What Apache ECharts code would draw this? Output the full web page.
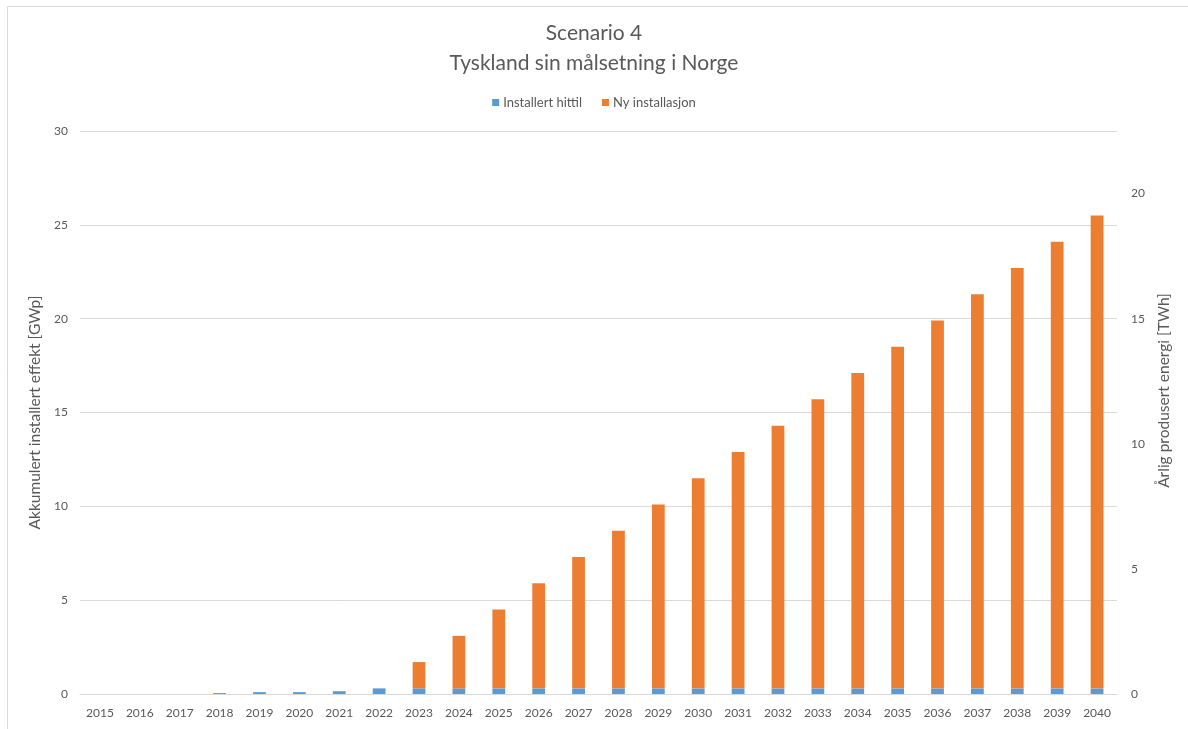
<!DOCTYPE html>
<html>
<head>
<meta charset="utf-8">
<script src="https://cdn.jsdelivr.net/npm/echarts@6/dist/echarts.min.js"></script>
<style>
  html, body { margin: 0; padding: 0; background: #ffffff; }
  #chart { width: 1188px; height: 729px; }
</style>
</head>
<body>
<div id="chart"></div>
<script>
// Years on the category axis
const years = ['2015','2016','2017','2018','2019','2020','2021','2022','2023','2024','2025','2026','2027',
               '2028','2029','2030','2031','2032','2033','2034','2035','2036','2037','2038','2039','2040'];

// Capacity already installed [GWp]
const installertHittil = [0, 0, 0, 0.05, 0.1, 0.1, 0.15, 0.3, 0.3, 0.3, 0.3, 0.3, 0.3,
                          0.3, 0.3, 0.3, 0.3, 0.3, 0.3, 0.3, 0.3, 0.3, 0.3, 0.3, 0.3, 0.3];

// New installations on top [GWp]
const nyInstallasjon = [0, 0, 0, 0, 0, 0, 0, 0, 1.4, 2.8, 4.2, 5.6, 7.0,
                        8.4, 9.8, 11.2, 12.6, 14.0, 15.4, 16.8, 18.2, 19.6, 21.0, 22.4, 23.8, 25.2];

const seriesNames = ['Installert hittil', 'Ny installasjon'];
const titleLines = ['Scenario 4', 'Tyskland sin målsetning i Norge'];
const leftAxisName = 'Akkumulert installert effekt [GWp]';
const rightAxisName = 'Årlig produsert energi [TWh]';

const FONT = 'Lato, "Open Sans", sans-serif';
const TEXT = '#595959';
const GRID = '#d9d9d9';

const chart = echarts.init(document.getElementById('chart'), null, { renderer: 'canvas' });

chart.setOption({
  backgroundColor: '#ffffff',
  animation: false,
  textStyle: { fontFamily: FONT, color: TEXT },
  graphic: [{
    type: 'rect',
    shape: { x: 7.5, y: 6.5, width: 1200, height: 740 },
    style: { fill: null, stroke: GRID, lineWidth: 1 },
    silent: true
  }],
  title: {
    text: titleLines.join('\n'),
    left: 'center',
    top: 18,
    padding: 0,
    textStyle: { fontFamily: FONT, fontSize: 21, fontWeight: 'normal', color: TEXT, lineHeight: 30 }
  },
  legend: {
    data: seriesNames,
    top: 91,
    left: 'center',
    itemWidth: 7,
    itemHeight: 7,
    itemGap: 20,
    icon: 'rect',
    textStyle: { fontFamily: FONT, fontSize: 13, color: TEXT, padding: [0, 0, 0, -1] }
  },
  grid: { left: 80, right: 71, top: 131, bottom: 35, containLabel: false },
  xAxis: {
    type: 'category',
    data: years,
    axisLine: { lineStyle: { color: GRID } },
    axisTick: { show: false },
    axisLabel: { color: TEXT, fontSize: 12, fontFamily: FONT, margin: 13, interval: 0 }
  },
  yAxis: [{
    type: 'value',
    min: 0,
    max: 30,
    interval: 5,
    name: leftAxisName,
    nameLocation: 'middle',
    nameRotate: 90,
    nameGap: 36,
    nameTextStyle: { color: TEXT, fontSize: 15.5, fontFamily: FONT },
    axisLine: { show: false },
    axisTick: { show: false },
    axisLabel: { color: TEXT, fontSize: 12, fontFamily: FONT, margin: 12 },
    splitLine: { lineStyle: { color: GRID } }
  }, {
    type: 'value',
    position: 'right',
    min: 0,
    max: 22.5,
    interval: 5,
    name: rightAxisName,
    nameLocation: 'middle',
    nameRotate: 90,
    nameGap: 38,
    nameTextStyle: { color: TEXT, fontSize: 15.5, fontFamily: FONT, padding: [0, 0, 0, 44] },
    axisLine: { show: false },
    axisTick: { show: false },
    axisLabel: { color: TEXT, fontSize: 12, fontFamily: FONT, margin: 14, showMaxLabel: false },
    splitLine: { show: false }
  }],
  series: [{
    name: seriesNames[0],
    type: 'bar',
    stack: 'total',
    data: installertHittil,
    barWidth: '32%',
    itemStyle: { color: '#5b9bd5' }
  }, {
    name: seriesNames[1],
    type: 'bar',
    stack: 'total',
    data: nyInstallasjon,
    barWidth: '32%',
    itemStyle: { color: '#ed7d31' }
  }]
});
</script>
</body>
</html>
